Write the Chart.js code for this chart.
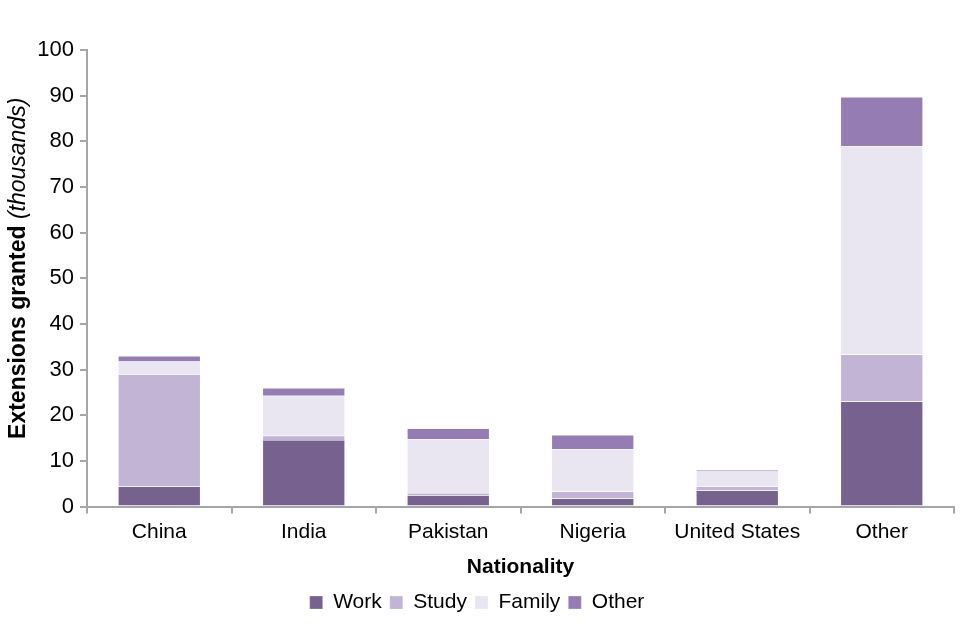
<!DOCTYPE html>
<html>
<head>
<meta charset="utf-8">
<script src="https://cdn.jsdelivr.net/npm/chart.js@4/dist/chart.umd.min.js"></script>
<style>
  html, body { margin: 0; padding: 0; background: #fff; }
  #wrap { width: 960px; height: 640px; }
</style>
</head>
<body>
<div id="wrap"><canvas id="c" width="960" height="640"></canvas></div>
<script>
// nationalities on the x axis
var categories = ['China', 'India', 'Pakistan', 'Nigeria', 'United States', 'Other'];

// extensions granted, thousands, per reason
var work   = [4.4, 14.6, 2.5, 1.8, 3.5, 23.0];
var study  = [24.6, 0.9, 0.5, 1.5, 0.9, 10.3];
var family = [2.8, 8.8, 11.8, 9.3, 3.3, 45.7];
var other  = [1.2, 1.7, 2.3, 3.1, 0.3, 10.7];

var yTicks = [0, 10, 20, 30, 40, 50, 60, 70, 80, 90, 100];

var axisGrey = '#a6a6a6';
var font = 'Arial, "Liberation Sans", sans-serif';

function series(label, data, color) {
	return {
		label: label,
		data: data,
		backgroundColor: color,
		borderColor: 'rgba(255,255,255,0.5)',
		borderWidth: 0.5,
		barPercentage: 0.57,
		categoryPercentage: 1
	};
}

// y title has a bold part and an italic part, so draw it by hand
var yTitle = {
	id: 'yTitle',
	afterDraw: function (chart) {
		var ctx = chart.ctx,
			area = chart.chartArea,
			bold = 'Extensions granted ',
			ital = '(thousands)';
		ctx.save();
		ctx.translate(19, (area.top + area.bottom) / 2 - 10);
		ctx.rotate(-Math.PI / 2);
		ctx.fillStyle = '#000';
		ctx.textBaseline = 'middle';
		ctx.font = 'bold 23px ' + font;
		var w1 = ctx.measureText(bold).width;
		ctx.font = 'italic 23px ' + font;
		var w2 = ctx.measureText(ital).width;
		var x = -(w1 + w2) / 2;
		ctx.font = 'bold 23px ' + font;
		ctx.textAlign = 'left';
		ctx.fillText(bold, x, 0);
		ctx.font = 'italic 23px ' + font;
		ctx.fillText(ital, x + w1, 0);
		ctx.restore();
	}
};

new Chart(document.getElementById('c'), {
	type: 'bar',
	data: {
		labels: categories,
		datasets: [
			series('Work', work, '#77628f'),
			series('Study', study, '#c1b4d4'),
			series('Family', family, '#e9e6f1'),
			series('Other', other, '#957db3')
		]
	},
	options: {
		responsive: false,
		animation: false,
		devicePixelRatio: 1,
		layout: { padding: { top: 50, right: 6, left: 0, bottom: 17 } },
		plugins: {
			tooltip: { enabled: false },
			legend: {
				position: 'bottom',
				labels: {
					color: '#000',
					font: { family: font, size: 21 },
					boxWidth: 13,
					boxHeight: 13,
					padding: 8
				}
			}
		},
		scales: {
			x: {
				stacked: true,
				offset: true,
				border: { color: axisGrey, width: 2 },
				grid: {
					offset: true,
					drawOnChartArea: false,
					drawTicks: true,
					tickLength: 7,
					color: axisGrey,
					lineWidth: 2
				},
				ticks: { color: '#000', font: { family: font, size: 21 }, padding: 6 },
				title: {
					display: true,
					text: 'Nationality',
					color: '#000',
					font: { family: font, size: 21, weight: 'bold' },
					padding: { top: 4, bottom: 4 }
				}
			},
			y: {
				stacked: true,
				min: 0,
				max: 100,
				afterFit: function (scale) { scale.width = 87; },
				afterBuildTicks: function (scale) {
					scale.ticks = yTicks.map(function (v) { return { value: v }; });
				},
				border: { color: axisGrey, width: 2 },
				grid: {
					drawOnChartArea: false,
					drawTicks: true,
					tickLength: 7,
					color: axisGrey,
					lineWidth: 2
				},
				ticks: { color: '#000', font: { family: font, size: 22 }, padding: 6 }
			}
		}
	},
	plugins: [yTitle]
});
</script>
</body>
</html>
